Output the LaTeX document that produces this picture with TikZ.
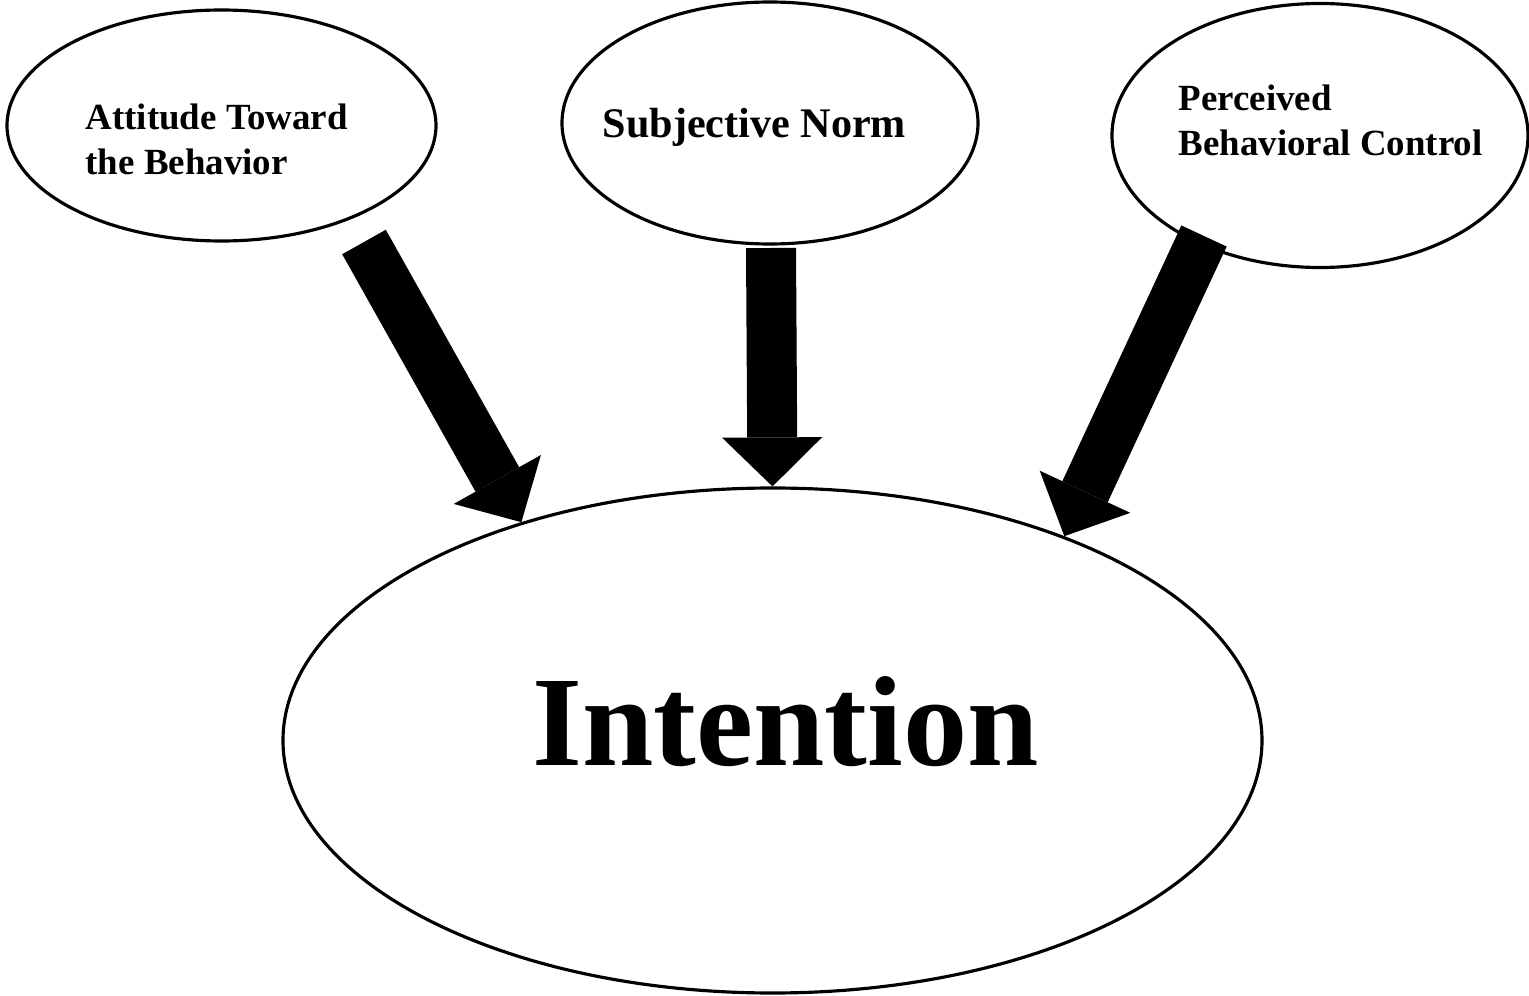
\documentclass[tikz,border=0pt]{standalone}
\usepackage{fontspec}
\setmainfont{Liberation Serif}
\usetikzlibrary{shapes.geometric,arrows.meta}

\begin{document}
\begin{tikzpicture}[
	oval/.style={draw, ellipse, line width=0.9pt, inner sep=0pt},
	txt/.style={align=left, inner sep=0pt, font=\bfseries\fontsize{10.5}{12.8}\selectfont},
	bigarrow/.style={line width=0.5cm, -{Triangle[width=1cm, length=0.49cm, line width=0pt]}}
	]
	\useasboundingbox (0,0) rectangle (15.29,-9.96);

	\node[oval, minimum width=4.29cm, minimum height=2.31cm] (att) at (2.215, -1.255) {};
	\node[oval, minimum width=4.16cm, minimum height=2.42cm] (norm) at (7.70, -1.23) {};
	\node[oval, minimum width=4.16cm, minimum height=2.64cm] (pbc) at (13.20, -1.355) {};
	\node[oval, minimum width=9.79cm, minimum height=5.05cm] (intent) at (7.725, -7.405) {};

	\node[txt, anchor=north west] (atttext) at (0.85, -1.03) {Attitude Toward\\the Behavior};
	\node[txt, anchor=base west, font=\bfseries\fontsize{12}{14}\selectfont] (normtext) at (6.02, -1.38) {Subjective Norm};
	\node[txt, anchor=north west] (pbctext) at (11.78, -0.84) {Perceived\\Behavioral Control};
	\node[txt, anchor=base west, font=\bfseries\fontsize{36.5}{40}\selectfont] (intenttext) at (5.32, -7.65) {Intention};

	\coordinate (attout) at (3.64, -2.42);
	\coordinate (normout) at (7.71, -2.48);
	\coordinate (pbcout) at (12.04, -2.36);

	\draw[bigarrow] (attout) -- (intent.139);
	\draw[bigarrow] (normout) -- (intent.90);
	\draw[bigarrow] (pbcout) -- (intent.35.5);
\end{tikzpicture}
\end{document}
